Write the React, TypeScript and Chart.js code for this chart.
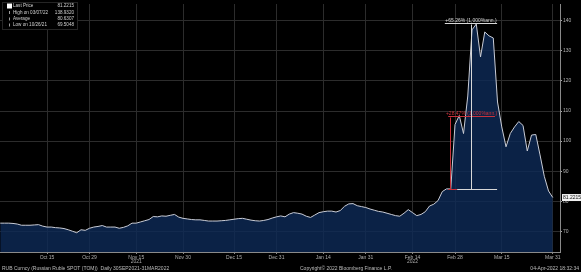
import React, { useEffect, useRef } from "react";
import { Chart, registerables } from "chart.js";

Chart.register(...registerables);

// Daily (weekday) closes, 30 Sep 2021 .. 31 Mar 2022, USD/RUB (RUB Curncy)
const values: number[] = [
  72.7, 72.7, 72.7, 72.6, 72.4, 72.0, 72.0, 72.0, 72.1, 72.2,
  71.7, 71.4, 71.4, 71.2, 71.1, 70.9, 70.5, 70.0, 69.5048, 70.5,
  70.3, 71.0, 71.4, 71.6, 71.9, 71.4, 71.4, 71.4, 71.0, 71.3,
  71.8, 72.7, 72.7, 73.1, 73.5, 73.9, 74.9, 74.8, 75.1, 75.0,
  75.3, 75.6, 74.7, 74.3, 74.1, 73.9, 73.8, 73.8, 73.6, 73.4,
  73.4, 73.4, 73.5, 73.6, 73.8, 74.0, 74.2, 74.3, 74.0, 73.7,
  73.5, 73.4, 73.6, 73.9, 74.4, 74.8, 75.1, 74.8, 75.7, 76.2,
  76.0, 75.7, 75.0, 74.6, 75.4, 76.2, 76.5, 76.7, 76.7, 76.4,
  76.9, 78.3, 79.1, 79.2, 78.5, 78.2, 77.9, 77.4, 77.0, 76.6,
  76.4, 76.0, 75.6, 75.2, 75.0, 76.0, 77.2, 76.2, 75.2, 75.6,
  76.5, 78.4, 79.0, 80.2, 83.2, 84.1, 84.07, 105.5, 108.5, 102.5,
  115.0, 137.0, 138.932, 128.0, 136.3, 135.0, 134.3, 113.0, 104.7, 98.1,
  102.5, 104.7, 106.5, 105.2, 96.7, 102.0, 102.2, 95.4, 88.3, 83.4,
  81.2215,
];

const tickIndices = [11, 21, 32, 43, 55, 65, 76, 86, 97, 107, 118, 130];
const tickLabels = ["Oct 15", "Oct 29", "Nov 15", "Nov 30", "Dec 15", "Dec 31", "Jan 14", "Jan 31", "Feb 14", "Feb 28", "Mar 15", "Mar 31"];
const yearLabels = ["2021", "2022"];
const yearIndices = [32, 97];
const yTicks = [70, 80, 90, 100, 110, 120, 130, 140];

const legendNames = ["Last Price", "High on 03/07/22", "Average", "Low on 10/26/21"];
const legendValues = ["81.2215", "138.9320", "80.6307", "69.5048"];

// % change measurements (base, top value, label)
const changeBase = 84.07;
const changeTops = [108.0, 138.932];
const changeLabels = ["+28.47% (1,000%ann.)", "+65.26% (1,000%ann.)"];
const changeVertIdx = [105.8, 110.8];
const changeBottomFrom = [105.4, 107.5];
const changeBottomTo = [107.5, 116.9];
const changeTopFrom = [105.4, 104.6];
const changeTopTo = [116.4, 116.9];

const footerLeft = "RUB Curncy (Russian Ruble SPOT (TOM))  Daily 30SEP2021-31MAR2022";
const footerMid = "Copyright\u00A9 2022 Bloomberg Finance L.P.";
const footerRight = "04-Apr-2022 18:32:34";

const FONT = "'Liberation Sans', Arial, sans-serif";

const overlayPlugin = {
  id: "bbgOverlay",
  afterDatasetsDraw(chart: any) {
    const ctx = chart.ctx;
    const xs = chart.scales.x;
    const ys = chart.scales.y;
    ctx.save();
    const colors = ["#c8323c", "#d8d8d8"];
    for (let k = 0; k < changeTops.length; k++) {
      ctx.strokeStyle = colors[k];
      ctx.fillStyle = colors[k];
      ctx.lineWidth = 1;
      const yb = Math.round(ys.getPixelForValue(changeBase)) + 0.5;
      const yt = Math.round(ys.getPixelForValue(changeTops[k])) + 0.5;
      const xv = Math.round(xs.getPixelForValue(changeVertIdx[k])) + 0.5;
      ctx.beginPath();
      ctx.moveTo(xs.getPixelForValue(changeBottomFrom[k]), yb);
      ctx.lineTo(xs.getPixelForValue(changeBottomTo[k]), yb);
      ctx.moveTo(xv, yb);
      ctx.lineTo(xv, yt);
      ctx.moveTo(xs.getPixelForValue(changeTopFrom[k]), yt - 1);
      ctx.lineTo(xs.getPixelForValue(changeTopTo[k]), yt - 1);
      ctx.stroke();
      ctx.font = `5px ${FONT}`;
      ctx.textAlign = "center";
      ctx.textBaseline = "bottom";
      const xc = (xs.getPixelForValue(changeTopFrom[k]) + xs.getPixelForValue(changeTopTo[k])) / 2;
      ctx.fillText(changeLabels[k], xc, yt - 1.5);
    }
    // last price tag
    const last = values[values.length - 1];
    const yl = ys.getPixelForValue(last);
    const xr = chart.chartArea.right;
    ctx.fillStyle = "#f0f0f0";
    ctx.fillRect(xr + 2, yl - 3.5, 19, 7);
    ctx.fillStyle = "#111";
    ctx.font = `5px ${FONT}`;
    ctx.textAlign = "left";
    ctx.textBaseline = "middle";
    ctx.fillText(last.toFixed(4), xr + 3, yl + 0.5);
    ctx.restore();
  },
  afterDraw(chart: any) {
    const ctx = chart.ctx;
    const xs = chart.scales.x;
    ctx.save();
    // legend box
    ctx.fillStyle = "#000";
    ctx.fillRect(2, 2, 76, 28);
    ctx.strokeStyle = "#4a4a4a";
    ctx.lineWidth = 1;
    ctx.setLineDash([1, 1]);
    ctx.strokeRect(2.5, 2.5, 75, 27);
    ctx.setLineDash([]);
    ctx.font = `4.6px ${FONT}`;
    ctx.textBaseline = "middle";
    const rows = [6, 12.5, 19, 25];
    for (let i = 0; i < legendNames.length; i++) {
      const y = rows[i];
      if (i === 0) {
        ctx.fillStyle = "#ffffff";
        ctx.fillRect(7, y - 2.5, 5, 5);
      } else {
        ctx.strokeStyle = "#9a9a9a";
        ctx.beginPath();
        ctx.moveTo(9.5, y - 1.5);
        ctx.lineTo(9.5, y + 1.5);
        ctx.stroke();
      }
      ctx.fillStyle = "#d0d0d0";
      ctx.textAlign = "left";
      ctx.fillText(legendNames[i], 13, y);
      ctx.textAlign = "right";
      ctx.fillText(legendValues[i], 74, y);
    }
    // year labels
    ctx.fillStyle = "#a8a8a8";
    ctx.font = `5px ${FONT}`;
    ctx.textAlign = "center";
    ctx.textBaseline = "middle";
    for (let i = 0; i < yearLabels.length; i++) {
      ctx.fillText(yearLabels[i], xs.getPixelForValue(yearIndices[i]), 262);
    }
    // footer
    ctx.fillStyle = "#bdbdbd";
    ctx.textBaseline = "middle";
    ctx.textAlign = "left";
    ctx.fillText(footerLeft, 2, 268.5);
    ctx.fillText(footerMid, 300, 268.5);
    ctx.textAlign = "right";
    ctx.fillText(footerRight, 579, 268.5);
    ctx.restore();
  },
};

export default function App() {
  const ref = useRef<HTMLCanvasElement | null>(null);
  useEffect(() => {
    if (!ref.current) return;
    const data = values.map((v, i) => ({ x: i, y: v }));
    const chart = new Chart(ref.current, {
      type: "line",
      data: {
        datasets: [
          {
            data,
            borderColor: "#c9ccd6",
            borderWidth: 1,
            backgroundColor: "rgba(14, 42, 88, 0.8)",
            fill: "start",
            pointRadius: 0,
            tension: 0,
          },
        ],
      },
      options: {
        animation: false,
        responsive: false,
        devicePixelRatio: 1,
        layout: { padding: 0 },
        plugins: { legend: { display: false }, tooltip: { enabled: false } },
        scales: {
          x: {
            type: "linear",
            min: -0.06,
            max: 131.7,
            afterBuildTicks: (s: any) => {
              s.ticks = tickIndices.map((v) => ({ value: v }));
            },
            afterFit: (s: any) => {
              s.height = 20;
            },
            ticks: {
              callback: (v: any) => {
                const k = tickIndices.indexOf(Number(v));
                return k >= 0 ? tickLabels[k] : "";
              },
              color: "#b0b0b0",
              font: { size: 5, family: FONT },
              padding: 1,
              maxRotation: 0,
              autoSkip: false,
            },
            grid: { color: "#2c2c2c", tickLength: 2, tickColor: "#888" },
            border: { color: "#8a8a8a" },
          },
          y: {
            position: "right",
            min: 63.1,
            max: 145.6,
            afterBuildTicks: (s: any) => {
              s.ticks = yTicks.map((v) => ({ value: v }));
            },
            afterFit: (s: any) => {
              s.width = 21;
            },
            ticks: {
              color: "#b0b0b0",
              font: { size: 5, family: FONT },
              padding: 1,
            },
            grid: { color: "#2c2c2c", tickLength: 2, tickColor: "#aaa" },
            border: { color: "#8a8a8a" },
          },
        },
      },
      plugins: [overlayPlugin],
    });
    return () => chart.destroy();
  }, []);
  return (
    <div style={{ position: "fixed", left: 0, top: 0, width: 581, height: 272, background: "#000" }}>
      <canvas ref={ref} width={581} height={272} style={{ display: "block", width: 581, height: 272 }} />
    </div>
  );
}
